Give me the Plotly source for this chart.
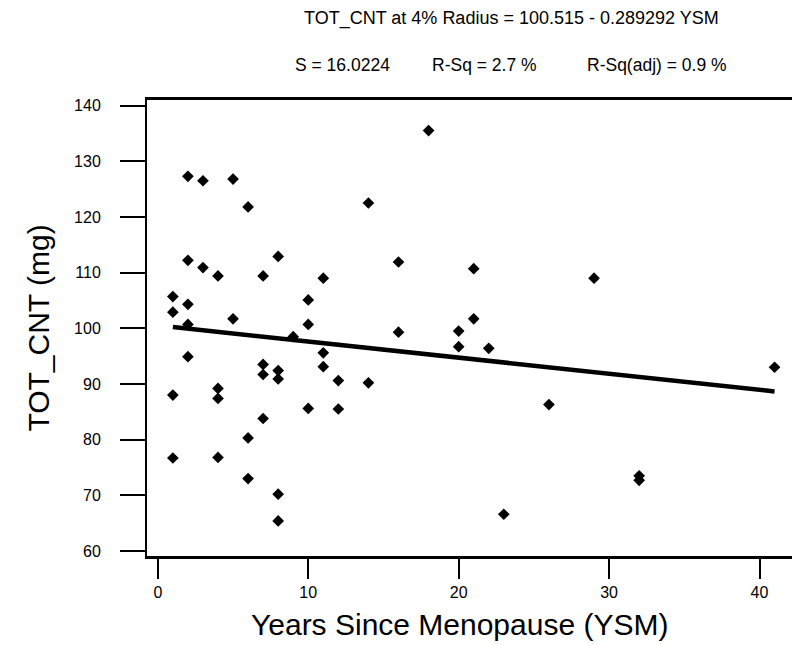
import plotly.graph_objects as go

# Data
ysm = [1, 1, 1, 1,
       2, 2, 2, 2, 2,
       3, 3,
       4, 4, 4, 4,
       5, 5,
       6, 6, 6,
       7, 7, 7, 7,
       8, 8, 8, 8, 8,
       9,
       10, 10, 10,
       11, 11, 11,
       12, 12,
       14, 14,
       16, 16,
       18,
       20, 20,
       21, 21,
       22, 23, 26, 29,
       32, 32,
       41]
tot_cnt = [105.7, 102.9, 88.0, 76.7,
           127.3, 112.2, 104.3, 100.7, 94.9,
           126.5, 110.9,
           109.4, 89.2, 87.4, 76.8,
           126.8, 101.7,
           121.8, 80.3, 73.0,
           109.4, 93.5, 91.7, 83.8,
           112.9, 92.4, 90.9, 70.2, 65.4,
           98.5,
           105.1, 100.7, 85.6,
           109.0, 95.6, 93.1,
           90.6, 85.5,
           122.5, 90.2,
           111.9, 99.3,
           135.5,
           99.5, 96.7,
           110.7, 101.7,
           96.4, 66.6, 86.3, 109.0,
           73.5, 72.7,
           93.0]

intercept = 100.515
slope = -0.289292
fit_x = [min(ysm), max(ysm)]
fit_y = [intercept + slope * v for v in fit_x]

x_ticks = [0, 10, 20, 30, 40]
y_ticks = [60, 70, 80, 90, 100, 110, 120, 130, 140]

header_line1 = "TOT_CNT at 4% Radius = 100.515 - 0.289292 YSM"
header_stats = ["S = 16.0224", "R-Sq = 2.7 %", "R-Sq(adj) = 0.9 %"]
x_title = "Years Since Menopause (YSM)"
y_title = "TOT_CNT (mg)"

FONT = "Arial, Liberation Sans, sans-serif"
W, H = 792, 645
ML, MR, MT, MB = 147, 0, 100, 89
PW, PH = W - ML - MR, H - MT - MB


def px_to_paper(px, py):
    return (px - ML) / PW, (H - py - MB) / PH


fig = go.Figure()
fig.add_trace(go.Scatter(x=fit_x, y=fit_y, mode="lines",
                         line=dict(color="black", width=4.5), hoverinfo="skip"))
fig.add_trace(go.Scatter(x=ysm, y=tot_cnt, mode="markers",
                         marker=dict(symbol="diamond", size=9, color="black")))

annotations = []
ax, ay = px_to_paper(511, 18)
annotations.append(dict(text=header_line1, x=ax, y=ay, xref="paper", yref="paper",
                        xanchor="center", yanchor="middle", showarrow=False,
                        font=dict(size=18)))
for txt, left in zip(header_stats, [293, 430, 585]):
    ax, ay = px_to_paper(left, 65)
    annotations.append(dict(text=txt, x=ax, y=ay, xref="paper", yref="paper",
                            xanchor="left", yanchor="middle", showarrow=False,
                            font=dict(size=17.5)))
ax, ay = px_to_paper(459, 624)
annotations.append(dict(text=x_title, x=ax, y=ay, xref="paper", yref="paper",
                        xanchor="center", yanchor="middle", showarrow=False,
                        font=dict(size=30)))

fig.update_layout(
    width=W, height=H,
    margin=dict(l=ML, r=MR, t=MT, b=MB),
    paper_bgcolor="white", plot_bgcolor="white",
    showlegend=False,
    font=dict(family=FONT, color="black"),
    xaxis=dict(range=[-0.72, 42.16], tickvals=x_ticks, ticks="outside",
               ticklen=20, tickwidth=2, tickcolor="black",
               showline=True, linewidth=3, linecolor="black", mirror=True,
               showgrid=False, zeroline=False,
               tickfont=dict(size=16)),
    yaxis=dict(range=[59.1, 141.0], tickvals=y_ticks, ticks="outside",
               ticklen=25, tickwidth=2, tickcolor="black",
               showline=True, linewidth=2, linecolor="black",
               showgrid=False, zeroline=False,
               tickfont=dict(size=16), ticklabelstandoff=16,
               title=dict(text=y_title, font=dict(size=30), standoff=16)),
    annotations=annotations,
)

fig.write_html("out.html")
